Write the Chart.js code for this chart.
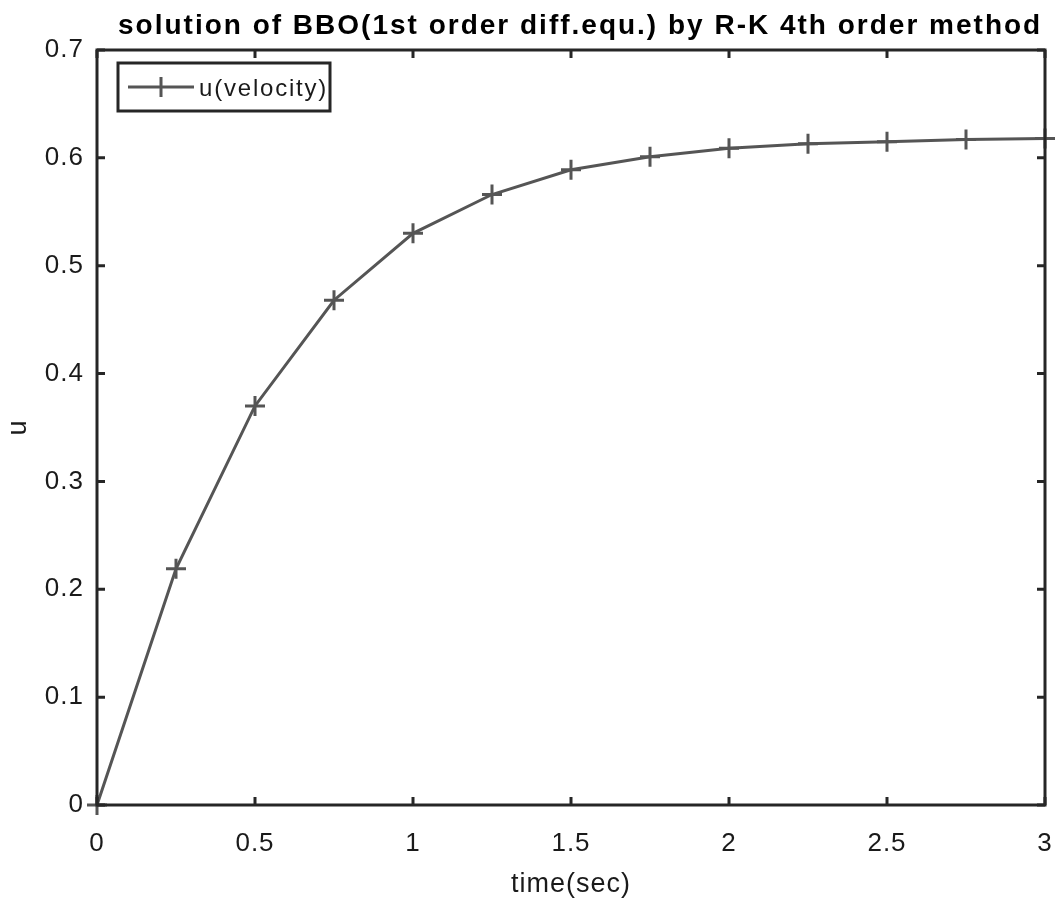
<!DOCTYPE html>
<html>
<head>
<meta charset="utf-8">
<script src="https://cdn.jsdelivr.net/npm/chart.js@4"></script>
<style>
  html, body { margin: 0; padding: 0; background: #fff; overflow: hidden; }
  #wrap { width: 1058px; height: 903px; }
  canvas { display: block; }
</style>
</head>
<body>
<div id="wrap"><canvas id="myChart" width="1058" height="903"></canvas></div>
<script>
// time steps and RK4 solution
var times = [0, 0.25, 0.5, 0.75, 1, 1.25, 1.5, 1.75, 2, 2.25, 2.5, 2.75, 3];
var velocity = [0, 0.219, 0.370, 0.468, 0.530, 0.566, 0.589, 0.601, 0.609, 0.613, 0.615, 0.617, 0.618];
var xTicks = [0, 0.5, 1, 1.5, 2, 2.5, 3];
var yTicks = [0, 0.1, 0.2, 0.3, 0.4, 0.5, 0.6, 0.7];

var titleText = 'solution of BBO(1st order diff.equ.) by R-K 4th order method';
var legendText = 'u(velocity)';

var axisColor = '#262626';
var lineColor = '#555555';
var fontFam = '"Liberation Sans", Arial, sans-serif';

var points = [];
for (var i = 0; i < times.length; i++) {
    points.push({ x: times[i], y: velocity[i] });
}

// matlab text is a bit wider than canvas text
var wideText = {
    id: 'wideText',
    beforeDraw: function (chart) { chart.ctx.letterSpacing = '1px'; },
    afterDraw: function (chart) { chart.ctx.letterSpacing = '0px'; }
};

// box, inward ticks, title and legend like the matlab figure
var matlabFrame = {
    id: 'matlabFrame',
    afterDraw: function (chart) {
        var ctx = chart.ctx;
        var a = chart.chartArea;
        var xs = chart.scales.x;
        var ys = chart.scales.y;
        var tl = 8;

        ctx.save();
        ctx.strokeStyle = axisColor;
        ctx.lineWidth = 3;
        ctx.strokeRect(a.left, a.top, a.right - a.left, a.bottom - a.top);

        ctx.beginPath();
        xTicks.forEach(function (v) {
            var px = xs.getPixelForValue(v);
            ctx.moveTo(px, a.bottom); ctx.lineTo(px, a.bottom - tl);
            ctx.moveTo(px, a.top); ctx.lineTo(px, a.top + tl);
        });
        yTicks.forEach(function (v) {
            var py = ys.getPixelForValue(v);
            ctx.moveTo(a.left, py); ctx.lineTo(a.left + tl, py);
            ctx.moveTo(a.right, py); ctx.lineTo(a.right - tl, py);
        });
        ctx.stroke();

        // title
        ctx.letterSpacing = '2px';
        ctx.fillStyle = '#000';
        ctx.font = 'bold 28px ' + fontFam;
        ctx.textAlign = 'left';
        ctx.textBaseline = 'alphabetic';
        ctx.fillText(titleText, 118, 34);

        // legend box
        var lx = 118, ly = 63, lw = 212, lh = 48;
        ctx.fillStyle = '#fff';
        ctx.fillRect(lx, ly, lw, lh);
        ctx.lineWidth = 3;
        ctx.strokeStyle = axisColor;
        ctx.strokeRect(lx, ly, lw, lh);

        ctx.strokeStyle = lineColor;
        ctx.lineWidth = 3;
        ctx.beginPath();
        ctx.moveTo(128, ly + lh / 2); ctx.lineTo(194, ly + lh / 2);
        ctx.moveTo(161, ly + lh / 2 - 10); ctx.lineTo(161, ly + lh / 2 + 10);
        ctx.stroke();

        ctx.letterSpacing = '1.8px';
        ctx.fillStyle = '#1a1a1a';
        ctx.font = '24px ' + fontFam;
        ctx.textAlign = 'left';
        ctx.textBaseline = 'middle';
        ctx.fillText(legendText, 199, ly + lh / 2 + 2);
        ctx.restore();
    }
};

var ctx = document.getElementById('myChart').getContext('2d');
var myChart = new Chart(ctx, {
    type: 'line',
    data: {
        datasets: [{
            label: legendText,
            data: points,
            borderColor: lineColor,
            borderWidth: 3,
            pointStyle: 'cross',
            pointRadius: 10,
            pointBorderWidth: 3,
            pointBorderColor: lineColor,
            pointBackgroundColor: lineColor,
            tension: 0,
            clip: false
        }]
    },
    options: {
        responsive: false,
        animation: false,
        layout: { padding: { top: 50, right: 11, left: 0, bottom: 0 } },
        plugins: {
            legend: { display: false },
            title: { display: false },
            tooltip: { enabled: false }
        },
        scales: {
            x: {
                type: 'linear',
                min: 0,
                max: 3,
                afterBuildTicks: function (scale) {
                    scale.ticks = xTicks.map(function (v) { return { value: v }; });
                },
                afterFit: function (scale) {
                    scale.height = 98;
                    scale.paddingLeft = 0;
                    scale.paddingRight = 0;
                },
                grid: { display: false, drawTicks: false },
                border: { display: false },
                ticks: {
                    color: '#1a1a1a',
                    padding: 23,
                    maxRotation: 0,
                    font: { family: fontFam, size: 26 },
                    callback: function (v) { return String(v); }
                },
                title: {
                    display: true,
                    text: 'time(sec)',
                    color: '#1a1a1a',
                    font: { family: fontFam, size: 27 },
                    padding: { top: 4, bottom: 2 }
                }
            },
            y: {
                type: 'linear',
                min: 0,
                max: 0.7,
                afterBuildTicks: function (scale) {
                    scale.ticks = yTicks.map(function (v) { return { value: v }; });
                },
                afterFit: function (scale) {
                    scale.width = 97;
                    scale.paddingTop = 0;
                    scale.paddingBottom = 0;
                },
                grid: { display: false, drawTicks: false },
                border: { display: false },
                ticks: {
                    color: '#1a1a1a',
                    padding: 13,
                    font: { family: fontFam, size: 26 },
                    callback: function (v) { return String(v); }
                },
                title: {
                    display: true,
                    text: 'u',
                    color: '#1a1a1a',
                    font: { family: fontFam, size: 27 },
                    padding: { top: 2, bottom: 4 }
                }
            }
        }
    },
    plugins: [wideText, matlabFrame]
});
</script>
</body>
</html>
